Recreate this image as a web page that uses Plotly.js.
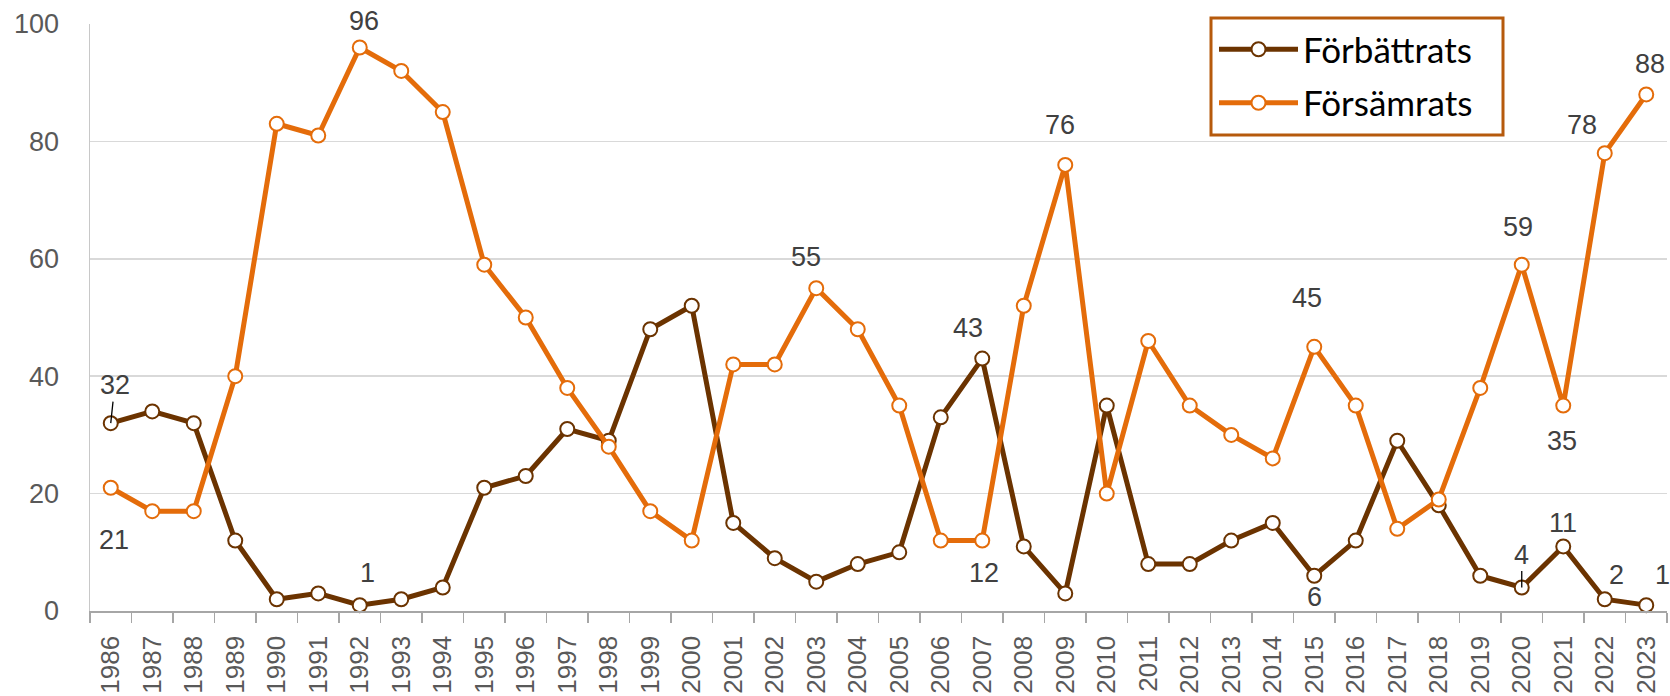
<!DOCTYPE html>
<html>
<head>
<meta charset="utf-8">
<script src="https://cdn.plot.ly/plotly-3.0.1.min.js"></script>
<style>
  html, body { margin: 0; padding: 0; background: #ffffff; }
  #chart { width: 1670px; height: 696px; }
</style>
</head>
<body>
<div id="chart"></div>
<script>
// ---- Data ----
const years = ['1986','1987','1988','1989','1990','1991','1992','1993','1994','1995',
               '1996','1997','1998','1999','2000','2001','2002','2003','2004','2005',
               '2006','2007','2008','2009','2010','2011','2012','2013','2014','2015',
               '2016','2017','2018','2019','2020','2021','2022','2023'];

const forbattrats = [32, 34, 32, 12, 2, 3, 1, 2, 4, 21,
                     23, 31, 29, 48, 52, 15, 9, 5, 8, 10,
                     33, 43, 11, 3, 35, 8, 8, 12, 15, 6,
                     12, 29, 18, 6, 4, 11, 2, 1];

const forsamrats = [21, 17, 17, 40, 83, 81, 96, 92, 85, 59,
                    50, 38, 28, 17, 12, 42, 42, 55, 48, 35,
                    12, 12, 52, 76, 20, 46, 35, 30, 26, 45,
                    35, 14, 19, 38, 59, 35, 78, 88];

const seriesNames = ['Förbättrats', 'Försämrats'];
const yTicks = [0, 20, 40, 60, 80, 100];

// ---- Styling ----
const brown = '#6B3300';
const orange = '#E46C0A';
const labelFont = { family: 'Liberation Sans, Arial, sans-serif', size: 27, color: '#404040' };

// Which points get a data label (series, year) and where the label sits relative to it (px)
const labelSpecs = [
  { s: 0, year: '1986', dx: 4,  dy: 38, leader: true },
  { s: 1, year: '1986', dx: 3,  dy: -52 },
  { s: 0, year: '1992', dx: 8,  dy: 32 },
  { s: 1, year: '1992', dx: 4,  dy: 26 },
  { s: 1, year: '2003', dx: -10, dy: 31 },
  { s: 0, year: '2007', dx: -14, dy: 31 },
  { s: 1, year: '2007', dx: 2,  dy: -32 },
  { s: 1, year: '2009', dx: -5, dy: 40 },
  { s: 1, year: '2015', dx: -7, dy: 49 },
  { s: 0, year: '2015', dx: 0,  dy: -21 },
  { s: 1, year: '2020', dx: -4, dy: 38 },
  { s: 0, year: '2020', dx: 0,  dy: 33, leader: true },
  { s: 1, year: '2021', dx: -1, dy: -35 },
  { s: 0, year: '2021', dx: 0,  dy: 23 },
  { s: 1, year: '2022', dx: -23, dy: 28 },
  { s: 0, year: '2022', dx: 12, dy: 24 },
  { s: 1, year: '2023', dx: 4,  dy: 30 },
  { s: 0, year: '2023', dx: 16, dy: 30 }
];

const seriesData = [forbattrats, forsamrats];
const colors = [brown, orange];

const traces = seriesData.map((vals, k) => ({
  type: 'scatter',
  mode: 'lines+markers',
  name: seriesNames[k],
  legendgroup: 'g' + k,
  x: years,
  y: vals,
  line: { color: colors[k], width: 5 },
  marker: { symbol: 'circle', size: 14, color: '#ffffff', line: { color: colors[k], width: 2 } },
  cliponaxis: false,
  hoverinfo: 'x+y+name'
}));

const annotations = labelSpecs.map(sp => {
  const idx = years.indexOf(sp.year);
  const v = seriesData[sp.s][idx];
  const a = {
    x: idx, y: v, xref: 'x', yref: 'y',
    text: String(v),
    font: Object.assign({}, labelFont),
    xanchor: 'center', yanchor: 'middle'
  };
  if (sp.leader) {
    a.showarrow = true;
    a.arrowhead = 0;
    a.arrowwidth = 1.3;
    a.arrowcolor = '#000000';
    a.ax = sp.dx;
    a.ay = -sp.dy;
    a.standoff = 0;
  } else {
    a.showarrow = false;
    a.xshift = sp.dx;
    a.yshift = sp.dy;
  }
  return a;
});

// plot-area geometry (px) used to place the legend frame in paper coordinates
const plotL = 90, plotW = 1577, plotB = 611, plotH = 587;
const px2x = p => (p - plotL) / plotW;
const px2y = p => (plotB - p) / plotH;

const layout = {
  width: 1670,
  height: 696,
  paper_bgcolor: '#ffffff',
  plot_bgcolor: '#ffffff',
  margin: { l: 90, r: 3, t: 24, b: 85 },
  showlegend: true,
  legend: {
    x: px2x(1214), xanchor: 'left',
    y: px2y(20), yanchor: 'top',
    bgcolor: 'rgba(0,0,0,0)',
    borderwidth: 0,
    itemwidth: 79,
    font: { family: 'Lato, Calibri, sans-serif', size: 35, color: '#000000' },
    traceorder: 'grouped',
    tracegroupgap: 5
  },
  shapes: [{
    type: 'rect', xref: 'paper', yref: 'paper', layer: 'above',
    x0: px2x(1211), x1: px2x(1503), y0: px2y(135), y1: px2y(18),
    line: { color: '#B65A0C', width: 3 },
    fillcolor: '#ffffff'
  }],
  xaxis: {
    type: 'category',
    range: [-0.5, years.length - 0.5],
    showgrid: false,
    zeroline: false,
    showline: true,
    linecolor: '#A6A6A6',
    linewidth: 1.5,
    ticks: 'outside',
    tickson: 'boundaries',
    ticklen: 10,
    tickwidth: 1.5,
    tickcolor: '#A6A6A6',
    tickangle: -90,
    ticklabelstandoff: 13,
    tickfont: { family: 'Liberation Sans, Arial, sans-serif', size: 26, color: '#595959' },
    fixedrange: true
  },
  yaxis: {
    range: [0, 100],
    tickvals: yTicks,
    ticktext: yTicks.map(String),
    showgrid: true,
    gridcolor: '#D9D9D9',
    gridwidth: 1.5,
    zeroline: false,
    showline: true,
    linecolor: '#C8C8C8',
    linewidth: 1.5,
    ticks: '',
    ticklabelstandoff: 24,
    tickfont: { family: 'Liberation Sans, Arial, sans-serif', size: 27, color: '#595959' },
    fixedrange: true
  },
  annotations: annotations
};

Plotly.newPlot('chart', traces, layout, { displayModeBar: false, staticPlot: true });
</script>
</body>
</html>
